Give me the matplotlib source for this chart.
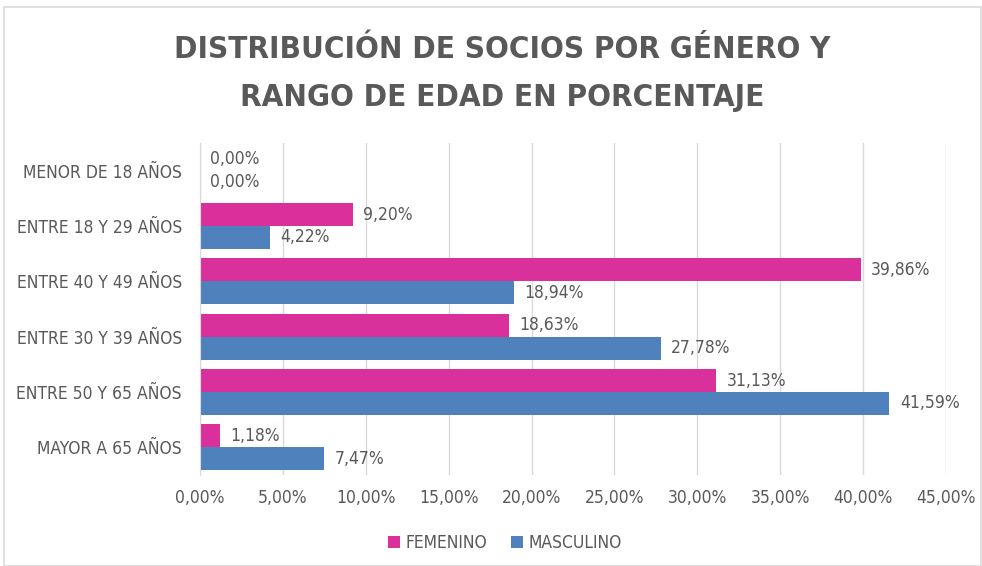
import matplotlib
matplotlib.use("Agg")
import matplotlib.pyplot as plt
from matplotlib.patches import Rectangle
import numpy as np

categorias = ["MENOR DE 18 AÑOS", "ENTRE 18 Y 29 AÑOS", "ENTRE 40 Y 49 AÑOS",
              "ENTRE 30 Y 39 AÑOS", "ENTRE 50 Y 65 AÑOS", "MAYOR A 65 AÑOS"]
femenino = [0.00, 9.20, 39.86, 18.63, 31.13, 1.18]
masculino = [0.00, 4.22, 18.94, 27.78, 41.59, 7.47]
ticks_x = [0, 5, 10, 15, 20, 25, 30, 35, 40, 45]

ROSA = "#D9309C"
AZUL = "#4F81BD"
GRIS = "#595959"

plt.rcParams['font.family'] = ['DejaVu Sans']
plt.rcParams['font.stretch'] = 'condensed'

fig = plt.figure(figsize=(9.82, 5.66), dpi=100)
fig.patches.append(Rectangle((0.004, 0.0), 0.995, 0.988, transform=fig.transFigure,
                             fill=False, edgecolor="#D9D9D9", lw=1.2))

ax = fig.add_axes([200/982, 1 - 475/566, 746/982, 332/566])

y = np.arange(len(categorias))
h = 0.415
ax.barh(y - h/2, femenino, height=h, color=ROSA, label="FEMENINO")
ax.barh(y + h/2, masculino, height=h, color=AZUL, label="MASCULINO")

def fmt(v):
    return "{:.2f}%".format(v).replace(".", ",")

# etiquetas de datos
for i in range(len(categorias)):
    ax.annotate(fmt(femenino[i]), xy=(femenino[i], y[i] - h/2), xytext=(7.5, 0),
                textcoords="offset points", va="center", ha="left",
                fontsize=12.5, color=GRIS)
    ax.annotate(fmt(masculino[i]), xy=(masculino[i], y[i] + h/2), xytext=(7.5, 0),
                textcoords="offset points", va="center", ha="left",
                fontsize=12.5, color=GRIS)

ax.set_xlim(0, 45)
ax.set_ylim(len(categorias) - 0.5, -0.5)
ax.set_xticks(ticks_x)
ax.set_xticklabels([fmt(t) for t in ticks_x], fontsize=12.5, color=GRIS)
ax.set_yticks(y)
ax.set_yticklabels(categorias, fontsize=12.5, color=GRIS)
ax.tick_params(axis="x", length=0, pad=10)
ax.tick_params(axis="y", length=0, pad=13)
ax.grid(axis="x", color="#D9D9D9", lw=1)
ax.set_axisbelow(True)
for s in ["top", "right", "bottom"]:
    ax.spines[s].set_visible(False)
ax.spines["left"].set_color("#D9D9D9")

fig.text(502/982, 1 - 50/566, "DISTRIBUCIÓN DE SOCIOS POR GÉNERO Y", ha="center", va="center",
         fontsize=22.5, fontweight="bold", color=GRIS)
fig.text(502/982, 1 - 97/566, "RANGO DE EDAD EN PORCENTAJE", ha="center", va="center",
         fontsize=22.5, fontweight="bold", color=GRIS)

fig.legend(loc="center", bbox_to_anchor=(505/982, 1 - 543/566), ncol=2, frameon=False,
           fontsize=12.5, handlelength=0.7, handleheight=0.7, handletextpad=0.3,
           columnspacing=1.4, labelcolor=GRIS)

fig.savefig("out.png", dpi=100)
